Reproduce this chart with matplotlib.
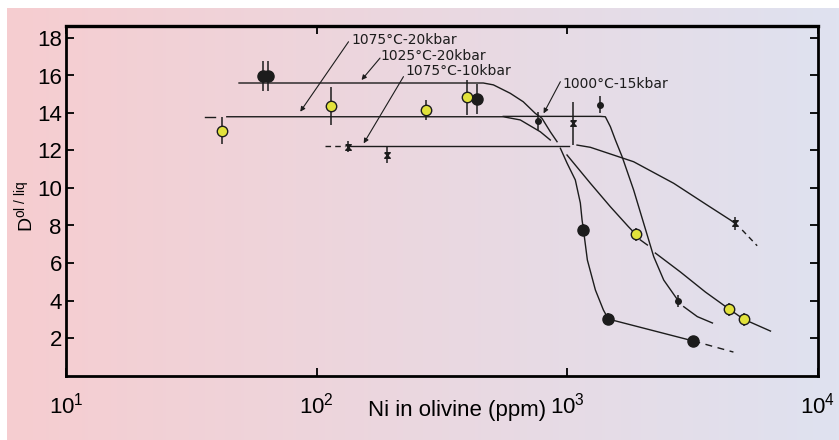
import numpy as np
import matplotlib
matplotlib.use("Agg")
import matplotlib.pyplot as plt

plt.rcParams['font.family'] = ['Liberation Sans', 'DejaVu Sans']
plt.rcParams['mathtext.fontset'] = 'custom'
plt.rcParams['mathtext.rm'] = 'Liberation Sans'
plt.rcParams['mathtext.it'] = 'Liberation Sans:italic'
plt.rcParams['mathtext.bf'] = 'Liberation Sans:bold'

# measured points (Ni in olivine ppm, D ol/liq, vertical error)
b20_x = [61, 64, 436, 1160, 1458, 3184]
b20_y = [15.95, 15.95, 14.73, 7.76, 3.01, 1.84]
b20_e = [0.8, 0.8, 0.8, 0.3, 0.3, 0.25]

y20_x = [42, 114, 273, 398, 1874, 4433, 5055]
y20_y = [13.04, 14.37, 14.16, 14.84, 7.53, 3.53, 3.0]
y20_e = [0.72, 1.0, 0.53, 0.93, 0.35, 0.35, 0.35]

s15_x = [764, 1355, 2775]
s15_y = [13.57, 14.43, 3.97]
s15_e = [0.5, 0.45, 0.3]

x10_x = [133, 190, 1055, 4655]
x10_y = [12.2, 11.76, 13.45, 8.12]
x10_e = [0.3, 0.45, 1.15, 0.35]

# hand drawn trend curves
b20_curve_x = [49, 462, 507, 592, 667, 745, 792, 855, 910]
b20_curve_y = [15.6, 15.6, 15.5, 15.05, 14.6, 13.98, 13.72, 13.0, 12.47]
b20_low_x = [938, 997, 1076, 1127, 1145, 1160, 1202, 1294, 1393, 1458, 3184]
b20_low_y = [12.12, 11.33, 10.43, 9.2, 8.29, 7.76, 6.16, 4.56, 3.49, 3.01, 1.84]
b20_dash_x = [3184, 4599]
b20_dash_y = [1.84, 1.25]

y20_lead_x = [35.9, 39.3]
y20_lead_y = [13.8, 13.8]
y20_curve_x = [43.8, 555, 649, 780, 855]
y20_curve_y = [13.8, 13.8, 13.63, 13.0, 12.56]
y20_mid_x = [997, 1236, 1485, 1752, 1874]
y20_mid_y = [11.76, 10.25, 9.0, 7.94, 7.53]
y20_dash_x = [1956, 2086]
y20_dash_y = [7.23, 6.96]
y20_low_x = [2245, 2826, 3556, 4433, 5055, 6462]
y20_low_y = [6.53, 5.52, 4.45, 3.53, 3.0, 2.37]

s15_curve_x = [555, 1354, 1418, 1485, 1555, 1654, 1839, 2016, 2211, 2424, 2775]
s15_curve_y = [13.82, 13.82, 13.8, 13.27, 12.56, 11.67, 9.89, 8.12, 6.34, 5.09, 3.97]
s15_tail_x = [2913, 3300, 3792]
s15_tail_y = [3.67, 3.14, 2.8]

x10_dash_x = [108, 130]
x10_dash_y = [12.26, 12.26]
x10_flat_x = [136, 1012]
x10_flat_y = [12.26, 12.26]
x10_curve_x = [1093, 1236, 1839, 2657, 3612, 4474, 4655]
x10_curve_y = [12.29, 12.17, 11.4, 10.25, 9.09, 8.29, 8.12]
x10_tail_x = [4983, 5719]
x10_tail_y = [7.76, 6.92]

# labels: text, text position, arrow tail and head
labels = ['1075°C-20kbar', '1025°C-20kbar', '1075°C-10kbar', '1000°C-15kbar']
label_pos = [(138, 17.68), (179, 16.83), (225, 16.03), (952, 15.32)]
arrow_tail = [(134, 17.8), (179, 16.93), (222, 15.94), (938, 15.67)]
arrow_head = [(86, 14.07), (151, 15.76), (154, 12.38), (804, 13.98)]

xticks = [10, 100, 1000, 10000]
xtick_labels = [r'$\mathregular{10^{1}}$', r'$\mathregular{10^{2}}$',
                r'$\mathregular{10^{3}}$', r'$\mathregular{10^{4}}$']
yticks = [2, 4, 6, 8, 10, 12, 14, 16, 18]

ink = '#1c1c1c'

fig = plt.figure(figsize=(8.39, 4.40), dpi=100)
fig.patch.set_facecolor('white')

# pink to lavender backdrop of the scan
bg = fig.add_axes([7 / 839, 0, 1 - 7 / 839, 432 / 440], zorder=-10)
left_c = np.array([246, 205, 208]) / 255
right_c = np.array([223, 226, 240]) / 255
t = np.linspace(0, 1, 256)[None, :, None]
grad = left_c * (1 - t) + right_c * t
bg.imshow(np.repeat(grad, 2, axis=0), aspect='auto', extent=[0, 1, 0, 1])
bg.axis('off')

ax = fig.add_axes([66 / 839, 64.5 / 440, 752 / 839, 349.5 / 440])
ax.set_facecolor('none')
ax.set_xscale('log')
ax.set_xlim(10, 10000)
ax.set_ylim(0, 18.64)

lw = 1.0
ax.plot(b20_curve_x, b20_curve_y, color=ink, lw=lw)
ax.plot(b20_low_x, b20_low_y, color=ink, lw=lw)
ax.plot(b20_dash_x, b20_dash_y, color=ink, lw=lw, ls=(0, (5, 4)))
ax.plot(y20_lead_x, y20_lead_y, color=ink, lw=lw)
ax.plot(y20_curve_x, y20_curve_y, color=ink, lw=lw)
ax.plot(y20_mid_x, y20_mid_y, color=ink, lw=lw)
ax.plot(y20_dash_x, y20_dash_y, color=ink, lw=lw)
ax.plot(y20_low_x, y20_low_y, color=ink, lw=lw)
ax.plot(s15_curve_x, s15_curve_y, color=ink, lw=lw)
ax.plot(s15_tail_x, s15_tail_y, color=ink, lw=lw)
ax.plot(x10_dash_x, x10_dash_y, color=ink, lw=lw, ls=(0, (4, 3)))
ax.plot(x10_flat_x, x10_flat_y, color=ink, lw=lw)
ax.plot(x10_curve_x, x10_curve_y, color=ink, lw=lw)
ax.plot(x10_tail_x, x10_tail_y, color=ink, lw=lw, ls=(0, (4, 3)))

for xs, ys, es in [(b20_x, b20_y, b20_e), (y20_x, y20_y, y20_e),
                   (s15_x, s15_y, s15_e), (x10_x, x10_y, x10_e)]:
    ax.errorbar(xs, ys, yerr=es, fmt='none', ecolor=ink, elinewidth=1.1, capsize=0)

ax.plot(b20_x, b20_y, 'o', color=ink, ms=8, zorder=5)
ax.plot(y20_x, y20_y, 'o', mfc='#e2e23c', mec=ink, mew=1.0, ms=7.5, zorder=5)
ax.plot(s15_x, s15_y, 'o', color=ink, ms=4, zorder=5)
hourglass = [(-1, 1), (1, 1), (-1, -1), (1, -1), (-1, 1)]
ax.plot(x10_x, x10_y, ls='none', marker=hourglass, color=ink, ms=4, zorder=5)

for txt, pos, tail, head in zip(labels, label_pos, arrow_tail, arrow_head):
    ax.text(pos[0], pos[1], txt, fontsize=10, family='DejaVu Sans', color=ink)
    ax.annotate('', xy=head, xytext=tail,
                arrowprops=dict(arrowstyle='-|>', color=ink, lw=0.8,
                                mutation_scale=7, shrinkA=0, shrinkB=0))

ax.set_xticks(xticks)
ax.set_xticklabels(xtick_labels)
ax.xaxis.set_minor_locator(matplotlib.ticker.NullLocator())
ax.set_yticks(yticks)
ax.tick_params(axis='x', which='major', direction='in', length=6, width=1.3,
               top=True, labelsize=16, pad=12)
ax.tick_params(axis='y', which='major', direction='in', length=6, width=1.3,
               right=True, labelsize=16, pad=3)
for side in ['left', 'right', 'bottom']:
    ax.spines[side].set_linewidth(2.0)
ax.spines['top'].set_linewidth(2.4)

ax.set_xlabel('Ni in olivine (ppm)', fontsize=16)
ax.xaxis.set_label_coords(0.52, -0.07)
ax.set_ylabel(r'D$^{\mathregular{ol\ /\ liq}}$', fontsize=14)
ax.yaxis.set_label_coords(-0.04, 0.485)

fig.savefig('out.png', dpi=100)
